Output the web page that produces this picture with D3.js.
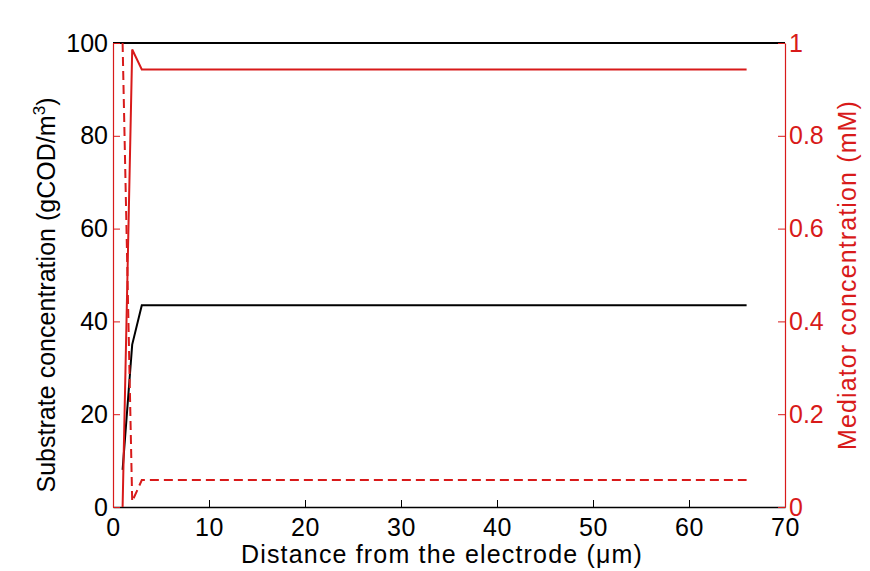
<!DOCTYPE html>
<html><head><meta charset="utf-8">
<script src="https://cdn.jsdelivr.net/npm/d3@7"></script>
<style>body{margin:0;background:#fff}svg{display:block}text{font-family:"Liberation Sans",Arial,sans-serif}</style>
</head><body><svg id="c" width="870" height="571"></svg>
<script>
// Data
const substrateX = [1, 2, 3, 66];
const substrateY = [8, 35, 43.5, 43.5];
const medOxX = [1, 2, 3, 66];
const medOxY = [0, 0.986, 0.943, 0.943];
const medRedX = [1, 2, 3, 66];
const medRedY = [1.0, 0.012, 0.058, 0.058];
const xTicks = [0, 10, 20, 30, 40, 50, 60, 70];
const yLeftTicks = [0, 20, 40, 60, 80, 100];
const yRightTicks = [0, 0.2, 0.4, 0.6, 0.8, 1];

const RED = "#d81a1a";
const svg = d3.select("#c");
const L = 113, R = 785, T = 43, B = 507;
const x = d3.scaleLinear().domain([0, 70]).range([L, R]);
const yL = d3.scaleLinear().domain([0, 100]).range([B, T]);
const yR = d3.scaleLinear().domain([0, 1]).range([B, T]);
const fs = 25;

// Bottom axis
const xa = svg.append("g").attr("transform", `translate(0,${B})`)
  .call(d3.axisBottom(x).tickValues(xTicks).tickSizeInner(-7).tickSizeOuter(0).tickPadding(11).tickFormat(d3.format("d")));
xa.select(".domain").attr("stroke", "#000").attr("stroke-width", 1.5);
xa.selectAll(".tick line").attr("stroke", "#000");
xa.selectAll("text").attr("font-size", fs).attr("fill", "#000").attr("letter-spacing", 0.5);
// Top line
svg.append("line").attr("x1", L).attr("x2", R).attr("y1", T).attr("y2", T).attr("stroke", "#000").attr("stroke-width", 2);

// Left axis
const ya = svg.append("g").attr("transform", `translate(${L},0)`)
  .call(d3.axisLeft(yL).tickValues(yLeftTicks).tickSizeInner(-7).tickSizeOuter(0).tickPadding(5));
ya.select(".domain").attr("stroke", RED).attr("stroke-width", 1.2);
ya.selectAll(".tick line").attr("stroke", RED);
ya.selectAll("text").attr("font-size", fs).attr("fill", "#000");

// Right axis
const yra = svg.append("g").attr("transform", `translate(${R},0)`)
  .call(d3.axisRight(yR).tickValues(yRightTicks).tickSizeInner(-7).tickSizeOuter(0).tickPadding(4).tickFormat(d => d === 0 || d === 1 ? d3.format("d")(d) : d3.format(".1f")(d)));
yra.select(".domain").attr("stroke", RED).attr("stroke-width", 1.2);
yra.selectAll(".tick line").attr("stroke", RED);
yra.selectAll("text").attr("font-size", fs).attr("fill", RED);

// Lines
const lineL = d3.line().x(d => x(d[0])).y(d => yL(d[1]));
const lineR = d3.line().x(d => x(d[0])).y(d => yR(d[1]));
svg.append("path").datum(substrateX.map((v, i) => [v, substrateY[i]]))
  .attr("d", lineL).attr("fill", "none").attr("stroke", "#000").attr("stroke-width", 2);
svg.append("path").datum(medOxX.map((v, i) => [v, medOxY[i]]))
  .attr("d", lineR).attr("fill", "none").attr("stroke", RED).attr("stroke-width", 2);
svg.append("path").datum(medRedX.map((v, i) => [v, medRedY[i]]))
  .attr("d", lineR).attr("fill", "none").attr("stroke", RED).attr("stroke-width", 2).attr("stroke-dasharray", "9,5");

function fitWidth(t, target) {
  const n = t.text().length;
  const w = t.node().getComputedTextLength();
  t.attr("letter-spacing", Math.max(-1, (target - w) / n));
}

// Titles
const xt = svg.append("text").attr("x", 442).attr("y", 563).attr("text-anchor", "middle")
  .attr("font-size", fs).attr("fill", "#000").text("Distance from the electrode (μm)");
fitWidth(xt, 402);
const lt = svg.append("text").attr("transform", `translate(55,295) rotate(-90)`)
  .attr("text-anchor", "middle").attr("font-size", fs).attr("fill", "#000");
lt.append("tspan").text("Substrate concentration (gCOD/m");
lt.append("tspan").attr("font-size", 17).attr("dy", -10).text("3");
lt.append("tspan").attr("dy", 10).text(")");
fitWidth(lt, 395);
const rt = svg.append("text").attr("transform", `translate(856,275) rotate(-90)`)
  .attr("text-anchor", "middle").attr("font-size", fs).attr("fill", RED).text("Mediator concentration (mM)");
fitWidth(rt, 350);
</script></body></html>
